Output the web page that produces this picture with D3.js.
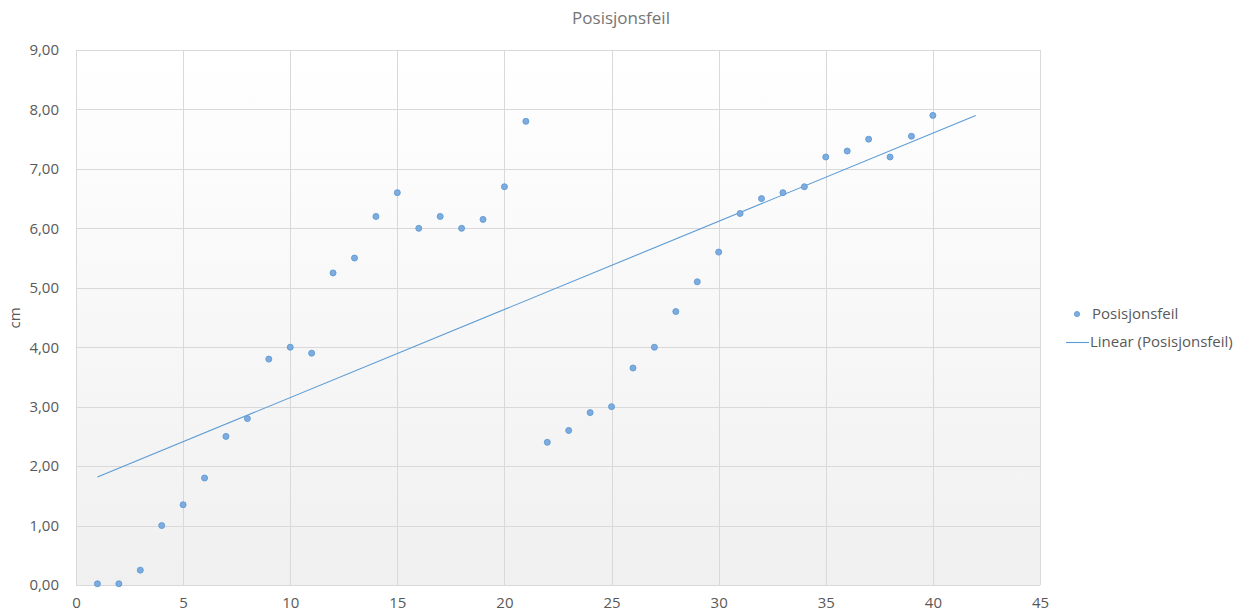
<!DOCTYPE html>
<html>
<head>
<meta charset="utf-8">
<script src="https://cdn.jsdelivr.net/npm/d3@7"></script>
<style>
  html, body { margin: 0; padding: 0; background: #fff; }
  svg { display: block; font-family: "Open Sans", "Noto Sans", sans-serif; }
</style>
</head>
<body>
<svg id="chart" width="1240" height="616"></svg>
<script>
// Measurement index and position error (cm)
const xValues = [1,2,3,4,5,6,7,8,9,10,11,12,13,14,15,16,17,18,19,20,
                 21,22,23,24,25,26,27,28,29,30,31,32,33,34,35,36,37,38,39,40];
const yValues = [0.02,0.02,0.25,1.0,1.35,1.8,2.5,2.8,3.8,4.0,
                 3.9,5.25,5.5,6.2,6.6,6.0,6.2,6.0,6.15,6.7,
                 7.8,2.4,2.6,2.9,3.0,3.65,4.0,4.6,5.1,5.6,
                 6.25,6.5,6.6,6.7,7.2,7.3,7.5,7.2,7.55,7.9];
const xTicks = [0,5,10,15,20,25,30,35,40,45];
const yTicks = [0,1,2,3,4,5,6,7,8,9];
const trendForward = 2; // trendline extended two units past the last point

const seriesName = "Posisjonsfeil";
const titleText = "Posisjonsfeil";
const yTitle = "cm";

const svg = d3.select("#chart");
const plot = { left: 76, right: 1040, top: 50, bottom: 585 };

const x = d3.scaleLinear().domain([0, 45]).range([plot.left, plot.right]);
const y = d3.scaleLinear().domain([0, 9]).range([plot.bottom, plot.top]);

// Plot area background: soft vertical gradient
const defs = svg.append("defs");
const grad = defs.append("linearGradient").attr("id", "bg")
  .attr("x1", 0).attr("y1", 0).attr("x2", 0).attr("y2", 1);
grad.append("stop").attr("offset", "0%").attr("stop-color", "#ffffff");
grad.append("stop").attr("offset", "100%").attr("stop-color", "#f0f0f0");

svg.append("rect")
  .attr("x", plot.left).attr("y", plot.top)
  .attr("width", plot.right - plot.left).attr("height", plot.bottom - plot.top)
  .attr("fill", "url(#bg)");

// Grid lines
const grid = svg.append("g").attr("stroke", "#d9d9d9").attr("stroke-width", 1);
grid.selectAll(".gx").data(xTicks).join("line")
  .attr("x1", d => Math.round(x(d)) + 0.5).attr("x2", d => Math.round(x(d)) + 0.5)
  .attr("y1", plot.top).attr("y2", plot.bottom);
grid.selectAll(".gy").data(yTicks).join("line")
  .attr("x1", plot.left).attr("x2", plot.right)
  .attr("y1", d => Math.round(y(d)) + 0.5).attr("y2", d => Math.round(y(d)) + 0.5);

// Axes (labels only, lines come from the grid)
const fmt = d => d.toFixed(2).replace(".", ",");
const xAxis = svg.append("g")
  .attr("transform", `translate(0,${plot.bottom})`)
  .call(d3.axisBottom(x).tickValues(xTicks).tickSize(0).tickPadding(12));
const yAxis = svg.append("g")
  .attr("transform", `translate(${plot.left},0)`)
  .call(d3.axisLeft(y).tickValues(yTicks).tickFormat(fmt).tickSize(0).tickPadding(17));
[xAxis, yAxis].forEach(a => {
  a.select(".domain").remove();
  a.selectAll("text").attr("fill", "#595959").style("font-size", "15px")
    .style("font-family", "'Open Sans', 'Noto Sans', sans-serif");
});

// Least-squares trendline
const n = xValues.length;
const mx = d3.mean(xValues), my = d3.mean(yValues);
let sxy = 0, sxx = 0;
for (let i = 0; i < n; i++) {
  sxy += (xValues[i] - mx) * (yValues[i] - my);
  sxx += (xValues[i] - mx) ** 2;
}
const slope = sxy / sxx, intercept = my - slope * mx;
const tx0 = d3.min(xValues), tx1 = d3.max(xValues) + trendForward;

const lineColor = "#5b9bd5";
svg.append("line")
  .attr("x1", x(tx0)).attr("y1", y(intercept + slope * tx0))
  .attr("x2", x(tx1)).attr("y2", y(intercept + slope * tx1))
  .attr("stroke", lineColor).attr("stroke-width", 1.1);

// Scatter points
svg.append("g").selectAll("circle").data(xValues.map((v, i) => [v, yValues[i]]))
  .join("circle")
  .attr("cx", d => x(d[0])).attr("cy", d => y(d[1])).attr("r", 3)
  .attr("fill", "#7fabdf").attr("stroke", "#5b9bd5").attr("stroke-width", 0.9);

// Title
svg.append("text").attr("x", 621).attr("y", 24).attr("text-anchor", "middle")
  .attr("fill", "#757575").style("font-size", "17px").text(titleText);

// Y axis title
svg.append("text").attr("transform", "translate(20,318) rotate(-90)")
  .attr("text-anchor", "middle").attr("fill", "#595959")
  .style("font-size", "15px").text(yTitle);

// Legend
const lg = svg.append("g");
lg.append("circle").attr("cx", 1077).attr("cy", 314).attr("r", 2.6)
  .attr("fill", "#7fabdf").attr("stroke", "#5b9bd5").attr("stroke-width", 0.8);
lg.append("text").attr("x", 1092).attr("y", 319).attr("fill", "#595959")
  .style("font-size", "15px").text(seriesName);
lg.append("line").attr("x1", 1066).attr("x2", 1089).attr("y1", 342.5).attr("y2", 342.5)
  .attr("stroke", lineColor).attr("stroke-width", 1.1);
lg.append("text").attr("x", 1090).attr("y", 347).attr("fill", "#595959")
  .style("font-size", "15px").text(`Linear (${seriesName})`);
</script>
</body>
</html>
